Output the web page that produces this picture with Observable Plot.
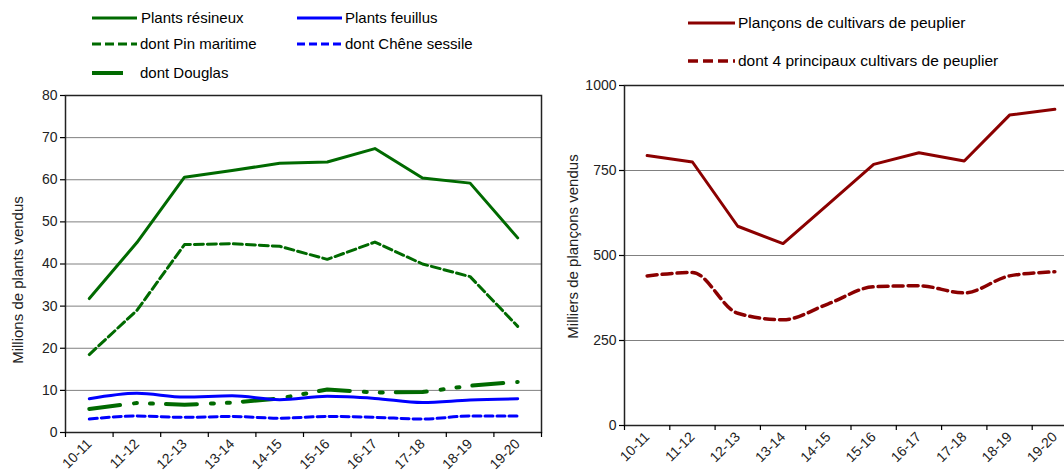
<!DOCTYPE html>
<html><head><meta charset="utf-8">
<script src="https://cdn.jsdelivr.net/npm/d3@7"></script>
<script src="https://cdn.jsdelivr.net/npm/@observablehq/plot@0.6"></script>
<style>
html,body{margin:0;padding:0;background:#fff;overflow:hidden;}
#root{position:relative;width:1064px;height:471px;overflow:hidden;font-family:"Liberation Sans",Arial,sans-serif;}
.chart{position:absolute;}
.legline{position:absolute;display:block;}
.legtext{position:absolute;height:18px;line-height:18px;color:#000;white-space:nowrap;}
</style></head><body><div id="root"></div>
<script>
// ---- data ----
const categories = ["10-11","11-12","12-13","13-14","14-15","15-16","16-17","17-18","18-19","19-20"];
const resineux    = [31.8, 45.1, 60.6, 62.2, 63.9, 64.2, 67.4, 60.4, 59.2, 46.2];
const pinMaritime = [18.5, 29.0, 44.6, 44.8, 44.2, 41.1, 45.2, 40.0, 37.0, 25.2];
const douglas     = [5.6, 7.0, 6.6, 7.1, 8.1, 10.2, 9.5, 9.6, 11.1, 12.0];
const feuillus    = [8.0, 9.3, 8.4, 8.7, 7.8, 8.6, 8.1, 7.1, 7.7, 8.0];
const chene       = [3.2, 3.9, 3.6, 3.8, 3.4, 3.8, 3.6, 3.2, 3.9, 3.9];
const plancons    = [794, 775, 586, 535, 651, 768, 802, 778, 913, 930];
const principaux  = [440, 450, 330, 311, 358, 408, 411, 390, 440, 452];
const leftTicks  = [0, 10, 20, 30, 40, 50, 60, 70, 80];
const rightTicks = [0, 250, 500, 750, 1000];

const leftNames  = ["Plants résineux","Plants feuillus","dont Pin maritime","dont Chêne sessile","dont Douglas"];
const rightNames = ["Plançons de cultivars de peuplier","dont 4 principaux cultivars de peuplier"];
const leftYLabel = "Millions de plants vendus";
const rightYLabel = "Milliers de plançons vendus";

// ---- styles ----
const GREEN = "#006a00", BLUE = "#0000ff", RED = "#8b0000";
const styles = {
  "Plants résineux":   {stroke: GREEN, width: 3, dash: null, curve: "linear"},
  "Plants feuillus":   {stroke: BLUE, width: 3, dash: null, curve: "monotone-x"},
  "dont Pin maritime": {stroke: GREEN, width: 3, dash: "9,4", curve: "linear"},
  "dont Chêne sessile":{stroke: BLUE, width: 3, dash: "8,4", curve: "monotone-x"},
  "dont Douglas":      {stroke: GREEN, width: 4, dash: "31,14,3,13,3,13", curve: "linear"},
  "Plançons de cultivars de peuplier": {stroke: RED, width: 3, dash: null, curve: "linear"},
  "dont 4 principaux cultivars de peuplier": {stroke: RED, width: 3.5, dash: "10,5", curve: "monotone-x"}
};

function rows(name, vals) { return vals.map((v, i) => ({name, cat: categories[i], v})); }
const xOf = d => categories.indexOf(d.cat) + 0.5;

function lineMark(name, vals) {
  const s = styles[name];
  return Plot.line(rows(name, vals), {x: xOf, y: "v", stroke: s.stroke, strokeWidth: s.width,
    strokeDasharray: s.dash || undefined, curve: s.curve, strokeLinejoin: "round"});
}

const font = "Liberation Sans, Arial, sans-serif";
const root = document.getElementById("root");

function frameMarks(ticks, label, labelDx, labelDy) {
  return [
    Plot.gridY(ticks, {stroke: "#808080", strokeOpacity: 1, strokeWidth: 1}),
    Plot.frame({stroke: "#222", strokeWidth: 1.5}),
    Plot.axisY(ticks, {tickSize: 5, tickPadding: 3, stroke: "#000", strokeWidth: 1.2,
      tickFormat: d => String(d), label: null}),
    Plot.axisX(d3.range(categories.length + 1), {tickSize: 5, stroke: "#000", strokeWidth: 1.2, tickFormat: () => "", label: null}),
    Plot.axisX(categories.map((c, i) => i + 0.5), {tickSize: 0, tickRotate: -45, tickPadding: 9,
      tickFormat: d => categories[Math.floor(d)], label: null}),
    Plot.text([label], {frameAnchor: "left", rotate: -90, dx: labelDx, dy: labelDy,
      textAnchor: "middle", lineAnchor: "middle", fontSize: 15, fill: "#222"}),
  ];
}

const left = Plot.plot({
  width: 560, height: 391, marginLeft: 65, marginRight: 19, marginTop: 15, marginBottom: 39,
  style: {fontFamily: font, fontSize: "14px", color: "#222", background: "transparent", overflow: "visible"},
  x: {type: "linear", domain: [0, categories.length]},
  y: {domain: [0, 80]},
  marks: [
    ...frameMarks(leftTicks, leftYLabel, -47, 16),
    lineMark(leftNames[0], resineux),
    lineMark(leftNames[2], pinMaritime),
    lineMark(leftNames[4], douglas),
    lineMark(leftNames[1], feuillus),
    lineMark(leftNames[3], chene),
  ]
});
left.classList.add("chart");
left.style.left = "0px"; left.style.top = "80px";
root.appendChild(left);

const right = Plot.plot({
  width: 522, height: 401, marginLeft: 69, marginRight: 0, marginTop: 15, marginBottom: 46,
  style: {fontFamily: font, fontSize: "14px", color: "#222", background: "transparent", overflow: "visible"},
  x: {type: "linear", domain: [0, categories.length]},
  y: {domain: [0, 1000]},
  marks: [
    ...frameMarks(rightTicks, rightYLabel, -51, -9),
    lineMark(rightNames[0], plancons),
    lineMark(rightNames[1], principaux),
  ]
});
right.classList.add("chart");
right.style.left = "555px"; right.style.top = "70px";
root.appendChild(right);

// ---- legends ----
function legendItem(name, x, y, len, textX, fontSize) {
  const s = styles[name];
  const svg = d3.create("svg").attr("class", "legline").attr("width", len).attr("height", 10)
    .style("left", x + "px").style("top", (y - 5) + "px");
  svg.append("line").attr("x1", 0).attr("x2", len).attr("y1", 5).attr("y2", 5)
    .attr("stroke", s.stroke).attr("stroke-width", s.width)
    .attr("stroke-dasharray", s.dash && name !== "dont Douglas" ? s.dash : null);
  root.appendChild(svg.node());
  const span = document.createElement("div");
  span.className = "legtext";
  span.style.left = textX + "px"; span.style.top = (y - 9) + "px";
  span.style.fontSize = fontSize + "px";
  span.textContent = name;
  root.appendChild(span);
}
legendItem(leftNames[0], 92, 18, 45, 141, 15);
legendItem(leftNames[1], 297, 18, 45, 345, 15);
legendItem(leftNames[2], 92, 44, 45, 140, 15);
legendItem(leftNames[3], 297, 44, 45, 345, 15);
legendItem(leftNames[4], 92, 73, 31, 140, 15);
legendItem(rightNames[0], 688, 23, 47, 738, 15.5);
legendItem(rightNames[1], 688, 61, 47, 738, 15.5);
</script></body></html>
